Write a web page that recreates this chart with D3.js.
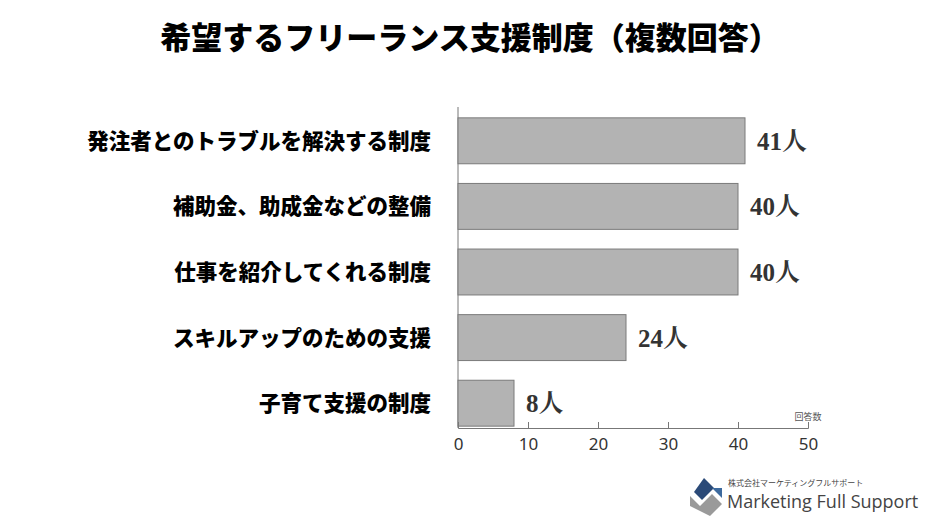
<!DOCTYPE html>
<html><head><meta charset="utf-8">
<script src="https://cdn.jsdelivr.net/npm/d3@7"></script>
<style>body{margin:0;background:#fff}</style></head>
<body><div id="chart"></div>
<script>
// Chart data
const categories = ["発注者とのトラブルを解決する制度", "補助金、助成金などの整備", "仕事を紹介してくれる制度", "スキルアップのための支援", "子育て支援の制度"];
const values = [41, 40, 40, 24, 8];
const xTicks = [0, 10, 20, 30, 40, 50];

const width = 940, height = 529;
const svg = d3.select("#chart").append("svg").attr("width", width).attr("height", height);
const jp = "'Noto Sans CJK JP', sans-serif";

svg.append("text").attr("x", 470).attr("y", 49).attr("text-anchor", "middle")
    .style("font-family", jp).style("font-weight", 900).style("font-size", "31px")
    .text("希望するフリーランス支援制度（複数回答）");

const x = d3.scaleLinear().domain([0, 50]).range([458, 808]);
const y = d3.scaleBand().domain(categories).range([108, 436]).paddingInner(0.3).paddingOuter(0.15);

// vertical axis line
svg.append("line").attr("x1", x(0)).attr("x2", x(0)).attr("y1", 107).attr("y2", 428)
    .attr("stroke", "#777").attr("stroke-width", 1);

svg.append("g").selectAll("rect").data(values).join("rect")
    .attr("x", x(0)).attr("y", (d, i) => y(categories[i]))
    .attr("width", d => x(d) - x(0)).attr("height", y.bandwidth())
    .attr("fill", "#b3b3b3").attr("stroke", "#7a7a7a").attr("stroke-width", 1);

svg.append("g").selectAll("text").data(values).join("text")
    .attr("x", d => x(d) + 12).attr("y", (d, i) => y(categories[i]) + y.bandwidth() / 2 + 9)
    .style("font-family", "'Liberation Serif', 'Noto Serif CJK JP', serif").style("font-weight", "bold")
    .style("font-size", "25px").attr("fill", "#333").text(d => d + "人");

svg.append("g").selectAll("text").data(categories).join("text")
    .attr("x", 431).attr("y", d => y(d) + y.bandwidth() / 2 + 8).attr("text-anchor", "end")
    .style("font-family", jp).style("font-weight", 900).style("font-size", "21.5px").text(d => d);

const axis = svg.append("g").attr("transform", "translate(0,428)")
    .call(d3.axisBottom(x).tickValues(xTicks).tickSize(-6).tickPadding(10));
axis.select(".domain").attr("stroke", "#777");
axis.selectAll(".tick line").attr("stroke", "#777");
axis.selectAll("text").style("font-family", "'Noto Sans', sans-serif").style("font-size", "17px").attr("fill", "#333");

svg.append("text").attr("x", 808).attr("y", 420).attr("text-anchor", "middle")
    .style("font-family", jp).style("font-size", "9px").attr("fill", "#555").text("回答数");

// logo
const logo = svg.append("g").attr("transform", "translate(690,478)");
logo.append("path").attr("d", "M14,0 L24,10 L12,22 L4,14 Z").attr("fill", "#2b4a78");
logo.append("path").attr("d", "M0,18 L10,28 L22,16 L32,26 L20,38 L0,28 Z").attr("fill", "#9a9a9a");
logo.append("path").attr("d", "M22,10 L32,10 L32,20 Z").attr("fill", "#3d6a9e");
svg.append("text").attr("x", 728).attr("y", 486).style("font-family", jp).style("font-size", "8px")
    .attr("fill", "#444").text("株式会社マーケティングフルサポート");
svg.append("text").attr("x", 727).attr("y", 508).style("font-family", "'Open Sans', sans-serif").style("font-size", "18px")
    .attr("fill", "#444").text("Marketing Full Support");
</script></body></html>
